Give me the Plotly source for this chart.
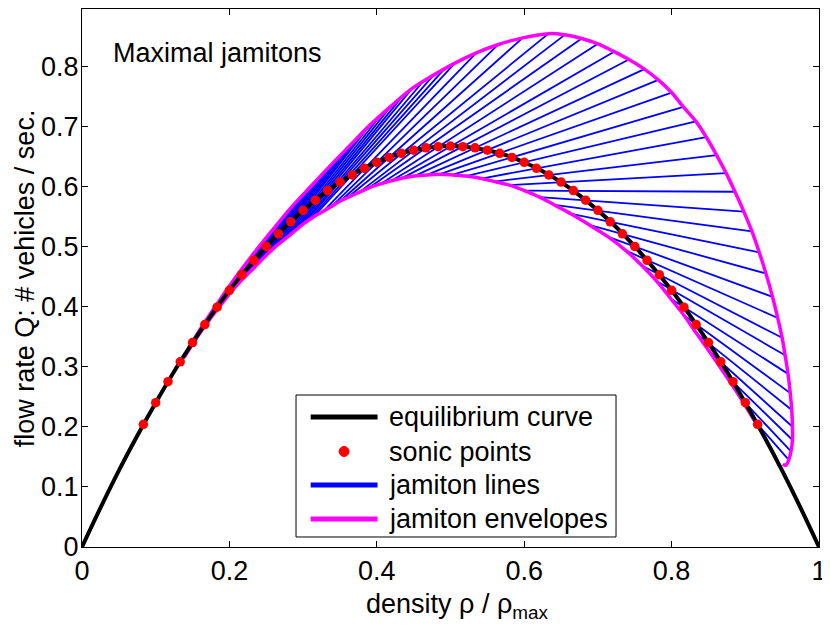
import plotly.graph_objects as go

# equilibrium curve Q(rho)
eq_rho = [0, 0.025, 0.05, 0.075, 0.1, 0.125, 0.15, 0.175, 0.2, 0.225, 0.25,
          0.275, 0.3, 0.325, 0.35, 0.375, 0.4, 0.425, 0.45, 0.475, 0.5,
          0.525, 0.55, 0.575, 0.6, 0.625, 0.65, 0.675, 0.7, 0.725, 0.75,
          0.775, 0.8, 0.825, 0.85, 0.875, 0.9, 0.925, 0.95, 0.975, 1.0]
eq_q = [0, 0.065, 0.127, 0.185, 0.240, 0.292, 0.340, 0.385, 0.427, 0.465, 0.500,
        0.532, 0.560, 0.585, 0.607, 0.625, 0.640, 0.652, 0.660, 0.665, 0.667,
        0.665, 0.660, 0.652, 0.640, 0.625, 0.607, 0.585, 0.560, 0.532, 0.500,
        0.465, 0.427, 0.385, 0.340, 0.292, 0.240, 0.185, 0.127, 0.065, 0]

# sonic points
sonic_rho = [0.0833, 0.1, 0.1167, 0.1333, 0.15, 0.1667, 0.1833, 0.2, 0.2167, 0.2333,
             0.25, 0.2667, 0.2833, 0.3, 0.3167, 0.3333, 0.35, 0.3667, 0.3833, 0.4,
             0.4167, 0.4333, 0.45, 0.4667, 0.4833, 0.5, 0.5167, 0.5333, 0.55, 0.5667,
             0.5833, 0.6, 0.6167, 0.6333, 0.65, 0.6667, 0.6833, 0.7, 0.7167, 0.7333,
             0.75, 0.7667, 0.7833, 0.8, 0.8167, 0.8333, 0.85, 0.8667, 0.8833, 0.9, 0.9167]
sonic_q = [0.204, 0.240, 0.275, 0.308, 0.340, 0.370, 0.399, 0.427, 0.453, 0.477,
           0.500, 0.521, 0.541, 0.560, 0.577, 0.593, 0.607, 0.619, 0.630, 0.640,
           0.648, 0.655, 0.660, 0.664, 0.666, 0.667, 0.666, 0.664, 0.660, 0.655,
           0.648, 0.640, 0.630, 0.619, 0.607, 0.593, 0.577, 0.560, 0.541, 0.521,
           0.500, 0.477, 0.453, 0.427, 0.399, 0.370, 0.340, 0.308, 0.275, 0.240, 0.204]

# jamiton lines: low density end (lo) and high density end (hi)
jam_lo_rho = [0.139, 0.1465, 0.154, 0.162, 0.170, 0.1745, 0.179, 0.185, 0.191, 0.198,
              0.205, 0.210, 0.215, 0.222, 0.229, 0.2365, 0.244, 0.2525, 0.261, 0.2675,
              0.274, 0.281, 0.288, 0.294, 0.300, 0.307, 0.314, 0.327, 0.339, 0.351,
              0.360, 0.376, 0.390, 0.405, 0.419, 0.435, 0.451, 0.468, 0.485, 0.502,
              0.521, 0.542, 0.560, 0.580, 0.600, 0.621, 0.641, 0.664, 0.688, 0.714,
              0.738, 0.760, 0.780, 0.799, 0.817, 0.834, 0.852, 0.872, 0.893, 0.913]
jam_lo_q = [0.316, 0.3305, 0.345, 0.359, 0.373, 0.3805, 0.388, 0.3975, 0.407, 0.4175,
            0.428, 0.435, 0.442, 0.4505, 0.459, 0.4685, 0.478, 0.488, 0.498, 0.5045,
            0.511, 0.518, 0.525, 0.531, 0.537, 0.543, 0.549, 0.558, 0.567, 0.576,
            0.581, 0.590, 0.598, 0.604, 0.609, 0.614, 0.617, 0.619, 0.620, 0.619,
            0.617, 0.613, 0.608, 0.602, 0.593, 0.582, 0.569, 0.554, 0.536, 0.516,
            0.493, 0.468, 0.442, 0.413, 0.385, 0.355, 0.324, 0.288, 0.249, 0.209]
jam_hi_rho = [0.165, 0.176, 0.187, 0.1985, 0.210, 0.222, 0.234, 0.2465, 0.259, 0.2715,
              0.284, 0.2965, 0.309, 0.322, 0.335, 0.3485, 0.362, 0.376, 0.390, 0.4045,
              0.419, 0.4335, 0.448, 0.4625, 0.477, 0.4915, 0.506, 0.535, 0.565, 0.598,
              0.633, 0.655, 0.678, 0.700, 0.722, 0.742, 0.763, 0.782, 0.800, 0.816,
              0.833, 0.847, 0.861, 0.874, 0.886, 0.898, 0.909, 0.919, 0.928, 0.937,
              0.944, 0.950, 0.954, 0.958, 0.961, 0.963, 0.964, 0.964, 0.962, 0.959]
jam_hi_q = [0.371, 0.391, 0.411, 0.431, 0.451, 0.4705, 0.490, 0.509, 0.528, 0.5465,
            0.565, 0.5815, 0.598, 0.615, 0.632, 0.649, 0.666, 0.6835, 0.701, 0.717,
            0.733, 0.748, 0.763, 0.774, 0.785, 0.795, 0.805, 0.822, 0.836, 0.847,
            0.854, 0.852, 0.846, 0.837, 0.824, 0.811, 0.795, 0.777, 0.756, 0.732,
            0.708, 0.682, 0.652, 0.622, 0.591, 0.558, 0.525, 0.490, 0.455, 0.416,
            0.381, 0.348, 0.319, 0.288, 0.256, 0.228, 0.200, 0.178, 0.159, 0.145]

# envelopes
env_up_rho = [0.145, 0.165, 0.187, 0.210, 0.234, 0.259, 0.284, 0.309, 0.335, 0.362,
              0.390, 0.419, 0.448, 0.477, 0.506, 0.535, 0.565, 0.598, 0.633, 0.655,
              0.678, 0.700, 0.722, 0.742, 0.763, 0.782, 0.800, 0.816, 0.833, 0.847,
              0.861, 0.874, 0.886, 0.898, 0.909, 0.919, 0.928, 0.937, 0.944, 0.950,
              0.954, 0.958, 0.961, 0.963, 0.964, 0.964, 0.962, 0.959, 0.955, 0.951]
env_up_q = [0.331, 0.371, 0.411, 0.451, 0.490, 0.528, 0.565, 0.598, 0.632, 0.666,
            0.701, 0.733, 0.763, 0.785, 0.805, 0.822, 0.836, 0.847, 0.854, 0.852,
            0.846, 0.837, 0.824, 0.811, 0.795, 0.777, 0.756, 0.732, 0.708, 0.682,
            0.652, 0.622, 0.591, 0.558, 0.525, 0.490, 0.455, 0.416, 0.381, 0.348,
            0.319, 0.288, 0.256, 0.228, 0.200, 0.178, 0.159, 0.145, 0.136, 0.138]
env_lo_rho = [0.139, 0.154, 0.170, 0.179, 0.191, 0.205, 0.215, 0.229, 0.244, 0.261,
              0.274, 0.288, 0.300, 0.314, 0.327, 0.339, 0.351, 0.360, 0.376, 0.390,
              0.405, 0.419, 0.435, 0.451, 0.468, 0.485, 0.502, 0.521, 0.542, 0.560,
              0.580, 0.600, 0.621, 0.641, 0.664, 0.688, 0.714, 0.738, 0.760, 0.780,
              0.799, 0.817, 0.834, 0.852, 0.872, 0.893, 0.913]
env_lo_q = [0.316, 0.345, 0.373, 0.388, 0.407, 0.428, 0.442, 0.459, 0.478, 0.498,
            0.511, 0.525, 0.537, 0.549, 0.558, 0.567, 0.576, 0.581, 0.590, 0.598,
            0.604, 0.609, 0.614, 0.617, 0.619, 0.620, 0.619, 0.617, 0.613, 0.608,
            0.602, 0.593, 0.582, 0.569, 0.554, 0.536, 0.516, 0.493, 0.468, 0.442,
            0.413, 0.385, 0.355, 0.324, 0.288, 0.249, 0.209]

legend_labels = ['equilibrium curve', 'sonic points', 'jamiton lines', 'jamiton envelopes']

jam_x, jam_y = [], []
for r0, r1, q0, q1 in zip(jam_lo_rho, jam_hi_rho, jam_lo_q, jam_hi_q):
    jam_x += [r0, r1, None]
    jam_y += [q0, q1, None]

BLUE = '#0000ff'
MAGENTA = '#ff00ff'
RED = '#ff0000'
FS = 27

fig = go.Figure()
fig.add_trace(go.Scatter(x=jam_x, y=jam_y, mode='lines', line=dict(color=BLUE, width=1.8)))
fig.add_trace(go.Scatter(x=env_up_rho, y=env_up_q, mode='lines',
                         line=dict(color=MAGENTA, width=3.5, shape='spline')))
fig.add_trace(go.Scatter(x=env_lo_rho, y=env_lo_q, mode='lines',
                         line=dict(color=MAGENTA, width=3.5, shape='spline')))
fig.add_trace(go.Scatter(x=eq_rho, y=eq_q, mode='lines',
                         line=dict(color='black', width=4, shape='spline')))
fig.add_trace(go.Scatter(x=sonic_rho, y=sonic_q, mode='markers',
                         marker=dict(color=RED, size=9.5)))

fig.add_annotation(x=0.04, y=0.822, xref='x', yref='y', text='Maximal jamitons',
                   showarrow=False, xanchor='left', yanchor='middle',
                   font=dict(size=FS, color='black'))

# axis titles placed as in the original
fig.add_annotation(x=0.3826, y=-0.074, xref='paper', yref='paper',
                   text='density ρ / ρ<sub>max</sub>', showarrow=False,
                   xanchor='left', yanchor='top', font=dict(size=FS, color='black'))
fig.add_annotation(x=-0.077, y=0.5, xref='paper', yref='paper', textangle=-90,
                   text='flow rate Q: # vehicles / sec.', showarrow=False,
                   xanchor='center', yanchor='middle', font=dict(size=FS, color='black'))

# boxed legend in the lower middle of the axes
fig.add_shape(type='rect', xref='paper', yref='paper', x0=0.2904, x1=0.7246,
              y0=0.0186, y1=0.2825, line=dict(color='black', width=1), fillcolor='white',
              layer='above')
row_y = [0.2416, 0.1775, 0.1152, 0.0520]
sample_colors = ['black', RED, BLUE, MAGENTA]
for i, (label, yy, col) in enumerate(zip(legend_labels, row_y, sample_colors)):
    if i == 1:
        fig.add_shape(type='circle', xref='paper', yref='paper',
                      x0=0.3556 - 0.0068, x1=0.3556 + 0.0068,
                      y0=yy - 0.0093, y1=yy + 0.0093,
                      line=dict(color=col, width=1), fillcolor=col, layer='above')
    else:
        fig.add_shape(type='line', xref='paper', yref='paper', x0=0.3103, x1=0.4010,
                      y0=yy, y1=yy, line=dict(color=col, width=5), layer='above')
    fig.add_annotation(x=0.4138, y=yy, xref='paper', yref='paper', text=label,
                       showarrow=False, xanchor='left', yanchor='middle',
                       font=dict(size=FS, color='black'))

axis_style = dict(showgrid=False, zeroline=False, showline=True, linecolor='black',
                  linewidth=1, mirror='ticks', ticks='inside', ticklen=6,
                  tickcolor='black', tickfont=dict(size=FS, color='black'),
                  automargin=False)

# the page adds an 8px body margin, so the figure is 8px smaller on each side
fig.update_layout(
    width=822, height=617,
    margin=dict(l=74, r=11, t=1, b=78),
    paper_bgcolor='white', plot_bgcolor='white',
    font=dict(family='Liberation Sans, Arial, sans-serif', size=FS, color='black'),
    showlegend=False,
    xaxis=dict(range=[0, 1], tickvals=[0, 0.2, 0.4, 0.6, 0.8, 1],
               ticktext=['0', '0.2', '0.4', '0.6', '0.8', '1'], **axis_style),
    yaxis=dict(range=[0, 0.895], tickvals=[0, 0.1, 0.2, 0.3, 0.4, 0.5, 0.6, 0.7, 0.8],
               ticktext=['0', '0.1', '0.2', '0.3', '0.4', '0.5', '0.6', '0.7', '0.8'],
               ticklabelstandoff=-3, **axis_style),
)

fig.write_html("out.html")
